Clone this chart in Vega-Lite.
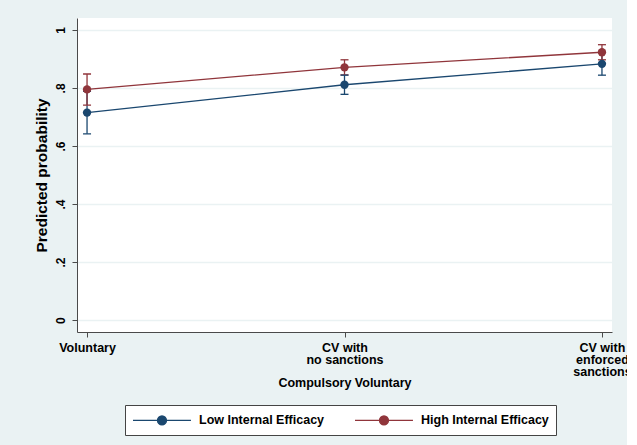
{
  "$schema": "https://vega.github.io/schema/vega-lite/v6.json",
  "width": 535,
  "height": 314,
  "autosize": {"type": "none"},
  "padding": {"left": 77, "top": 18, "right": 15, "bottom": 113},
  "background": "#EAF2F3",
  "config": {
    "font": "Liberation Sans",
    "view": {"fill": "white", "stroke": null},
    "axis": {
      "labelFont": "Liberation Sans",
      "titleFont": "Liberation Sans",
      "labelFontWeight": "bold",
      "titleFontWeight": "bold",
      "labelColor": "black",
      "titleColor": "black",
      "domainColor": "#4a4a4a",
      "tickColor": "#4a4a4a",
      "domainWidth": 1,
      "tickWidth": 1,
      "tickSize": 5
    }
  },
  "data": {
    "values": [
      {"cv": "Voluntary", "group": "Low Internal Efficacy", "p": 0.715, "lo": 0.642, "hi": 0.788},
      {"cv": "CV with|no sanctions", "group": "Low Internal Efficacy", "p": 0.811, "lo": 0.778, "hi": 0.844},
      {"cv": "CV with|enforced|sanctions", "group": "Low Internal Efficacy", "p": 0.883, "lo": 0.844, "hi": 0.922},
      {"cv": "Voluntary", "group": "High Internal Efficacy", "p": 0.795, "lo": 0.741, "hi": 0.848},
      {"cv": "CV with|no sanctions", "group": "High Internal Efficacy", "p": 0.871, "lo": 0.845, "hi": 0.897},
      {"cv": "CV with|enforced|sanctions", "group": "High Internal Efficacy", "p": 0.923, "lo": 0.897, "hi": 0.949}
    ]
  },
  "encoding": {
    "x": {
      "field": "cv",
      "type": "ordinal",
      "sort": ["Voluntary", "CV with|no sanctions", "CV with|enforced|sanctions"],
      "scale": {"type": "point", "padding": 0.039},
      "axis": {
        "title": "Compulsory Voluntary",
        "labelExpr": "split(datum.label, '|')",
        "labelAngle": 0,
        "labelFontSize": 12.5,
        "labelLineHeight": 12,
        "labelPadding": 4,
        "titleFontSize": 12.5,
        "titlePadding": -1,
        "grid": false
      }
    },
    "color": {
      "field": "group",
      "type": "nominal",
      "scale": {
        "domain": ["Low Internal Efficacy", "High Internal Efficacy"],
        "range": ["#1a476f", "#90353b"]
      },
      "legend": {
        "title": null,
        "orient": "none",
        "legendX": 48,
        "legendY": 387,
        "direction": "horizontal",
        "fillColor": "white",
        "strokeColor": "#444",
        "padding": 7,
        "symbolType": "M-1,0L7.28,0M2.5,0A0.64,0.64,0,1,0,3.78,0A0.64,0.64,0,1,0,2.5,0Z",
        "symbolSize": 196,
        "symbolStrokeWidth": 1.3,
        "labelFont": "Liberation Sans",
        "labelFontSize": 12.5,
        "labelFontWeight": "bold",
        "labelColor": "black",
        "labelOffset": 51,
        "columnPadding": 27
      }
    }
  },
  "layer": [
    {
      "mark": {"type": "line", "strokeWidth": 1.3},
      "encoding": {
        "y": {
          "field": "p",
          "type": "quantitative",
          "scale": {"domain": [-0.041, 1.041], "nice": false, "zero": false},
          "axis": {
            "title": "Predicted probability",
            "values": [0, 0.2, 0.4, 0.6, 0.8, 1],
            "labelExpr": "datum.value == 0 ? '0' : datum.value == 1 ? '1' : replace(format(datum.value, '.1f'), '0.', '.')",
            "labelAngle": -90,
            "labelFontSize": 12,
            "labelPadding": 5,
            "titleFontSize": 15.5,
            "titlePadding": 5,
            "grid": true,
            "gridColor": "#EAF2F3",
            "gridWidth": 1.5
          }
        }
      }
    },
    {
      "mark": {"type": "rule", "strokeWidth": 1.3},
      "encoding": {
        "y": {"field": "lo", "type": "quantitative"},
        "y2": {"field": "hi"}
      }
    },
    {
      "mark": {"type": "tick", "size": 8, "thickness": 1.3, "opacity": 1},
      "encoding": {"y": {"field": "lo", "type": "quantitative"}}
    },
    {
      "mark": {"type": "tick", "size": 8, "thickness": 1.3, "opacity": 1},
      "encoding": {"y": {"field": "hi", "type": "quantitative"}}
    },
    {
      "mark": {"type": "point", "shape": "circle", "filled": true, "size": 70, "opacity": 1},
      "encoding": {"y": {"field": "p", "type": "quantitative"}}
    }
  ]
}
